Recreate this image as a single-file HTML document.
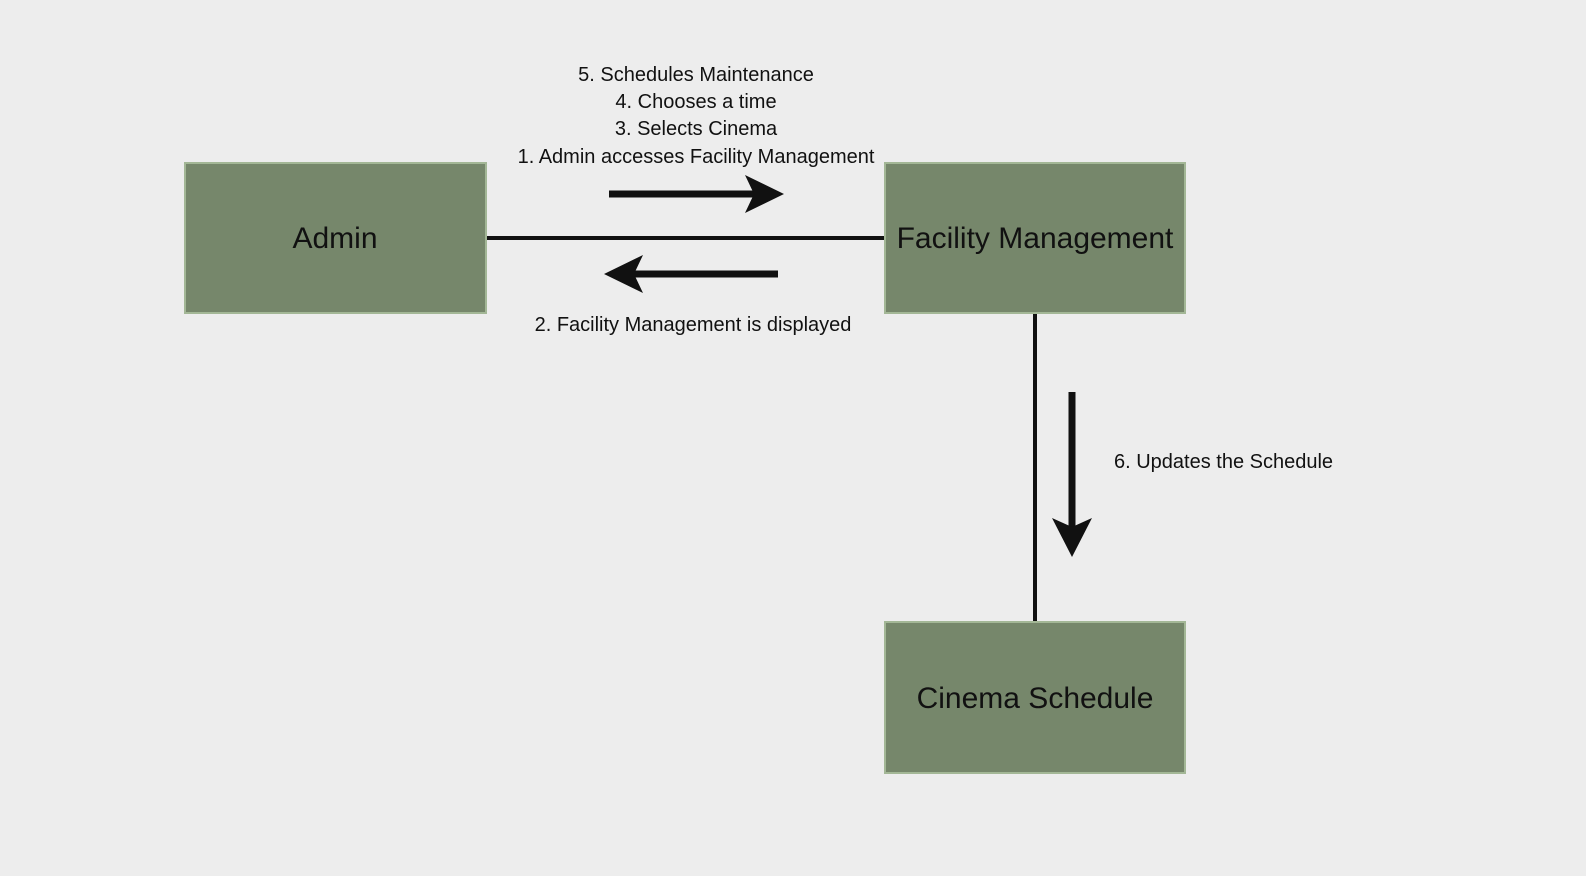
<!DOCTYPE html>
<html><head><style>
body{margin:0;width:1586px;height:876px;background:#ededed;overflow:hidden;font-family:"Liberation Sans",Arial,sans-serif;}
</style></head><body>
<svg width="1586" height="876" xmlns="http://www.w3.org/2000/svg" style="position:absolute;left:0;top:0">
<g fill="#76876b" stroke="#a3b796" stroke-width="2">
<rect x="185" y="163" width="301" height="150"/>
<rect x="885" y="163" width="300" height="150"/>
<rect x="885" y="622" width="300" height="151"/>
</g>
<g stroke="#111" stroke-width="4">
<line x1="487" y1="238" x2="884" y2="238"/>
<line x1="1035" y1="314" x2="1035" y2="621"/>
</g>
<g fill="#111">
<rect x="609" y="190.5" width="150" height="7"/>
<path d="M784 194 L745 175 L754 194 L745 213 Z"/>
<rect x="622" y="270.5" width="156" height="7"/>
<path d="M604 274 L643 255 L634 274 L643 293 Z"/>
<rect x="1068.5" y="392" width="7" height="140"/>
<path d="M1072 557 L1052 518 L1072 527 L1092 518 Z"/>
</g>
<g font-family="Liberation Sans, Arial, sans-serif" fill="#111">
<g font-size="20" text-anchor="middle">
<text x="696" y="81">5. Schedules Maintenance</text>
<text x="696" y="108">4. Chooses a time</text>
<text x="696" y="135">3. Selects Cinema</text>
<text x="696" y="163">1. Admin accesses Facility Management</text>
<text x="693" y="331">2. Facility Management is displayed</text>
</g>
<text x="1114" y="468" font-size="20">6. Updates the Schedule</text>
<g font-size="30" text-anchor="middle">
<text x="335" y="248">Admin</text>
<text x="1035" y="248">Facility Management</text>
<text x="1035" y="708">Cinema Schedule</text>
</g>
</g>
</svg>
</body></html>
